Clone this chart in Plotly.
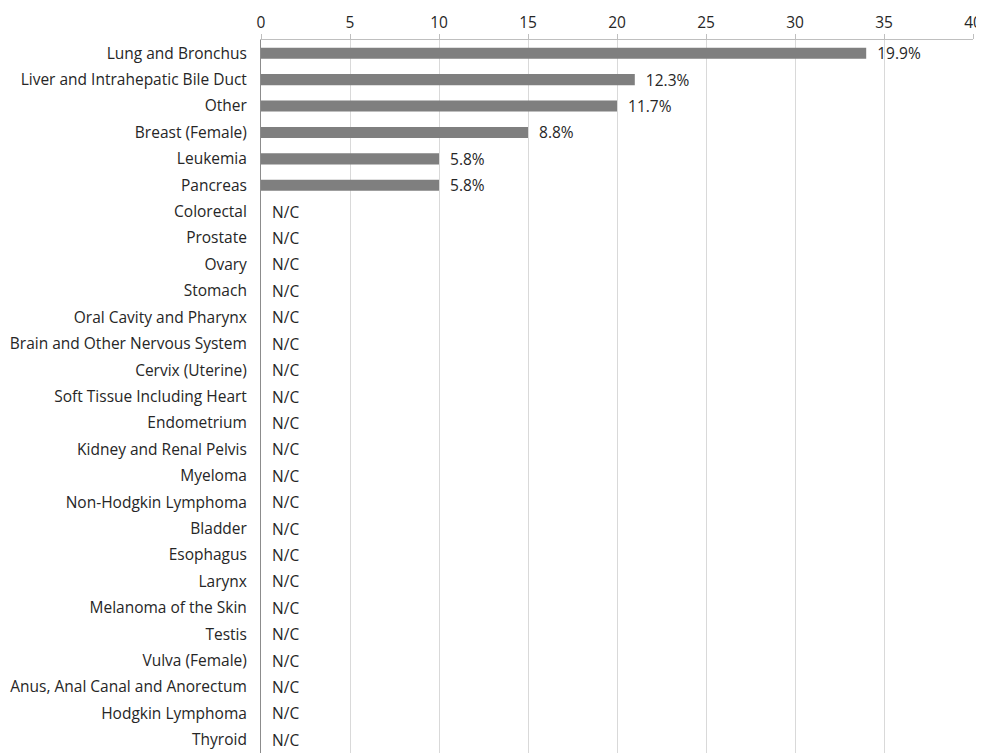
import plotly.graph_objects as go

categories = [
    "Lung and Bronchus", "Liver and Intrahepatic Bile Duct", "Other", "Breast (Female)",
    "Leukemia", "Pancreas", "Colorectal", "Prostate", "Ovary", "Stomach",
    "Oral Cavity and Pharynx", "Brain and Other Nervous System", "Cervix (Uterine)",
    "Soft Tissue Including Heart", "Endometrium", "Kidney and Renal Pelvis", "Myeloma",
    "Non-Hodgkin Lymphoma", "Bladder", "Esophagus", "Larynx", "Melanoma of the Skin",
    "Testis", "Vulva (Female)", "Anus, Anal Canal and Anorectum", "Hodgkin Lymphoma", "Thyroid",
]
values = [34, 21, 20, 15, 10, 10] + [0] * 21
labels = ["19.9%", "12.3%", "11.7%", "8.8%", "5.8%", "5.8%"] + ["N/C"] * 21
x_ticks = [0, 5, 10, 15, 20, 25, 30, 35, 40]

FONT = "Open Sans"
TXT = "#262626"
FS = 15.5

fig = go.Figure(go.Bar(
    x=values, y=categories, orientation="h",
    marker=dict(color="#7f7f7f", line=dict(width=0)),
    text=labels, texttemplate="  %{text}", textposition="outside", cliponaxis=False,
    constraintext="none",
    textfont=dict(family=FONT, size=FS, color=TXT),
))

fig.update_layout(
    width=976, height=745,
    margin=dict(l=253, r=11, t=32, b=0, autoexpand=False),
    paper_bgcolor="white", plot_bgcolor="white",
    bargap=0.58, showlegend=False,
    font=dict(family=FONT, size=FS, color=TXT),
)
fig.update_xaxes(
    side="top", range=[0, 40], tickvals=x_ticks, showgrid=True, gridcolor="#d9d9d9",
    gridwidth=1, zeroline=False, showline=True, linecolor="#bfbfbf",
    ticks="outside", ticklen=5, tickcolor="#bfbfbf", tickfont=dict(size=FS, color=TXT),
    fixedrange=True,
)
fig.update_yaxes(
    autorange="reversed", showline=True, linecolor="#8c8c8c", linewidth=1,
    ticks="", showgrid=False, automargin=False, ticklabelstandoff=10,
    tickfont=dict(size=FS, color=TXT),
)

fig.write_html("out.html")
